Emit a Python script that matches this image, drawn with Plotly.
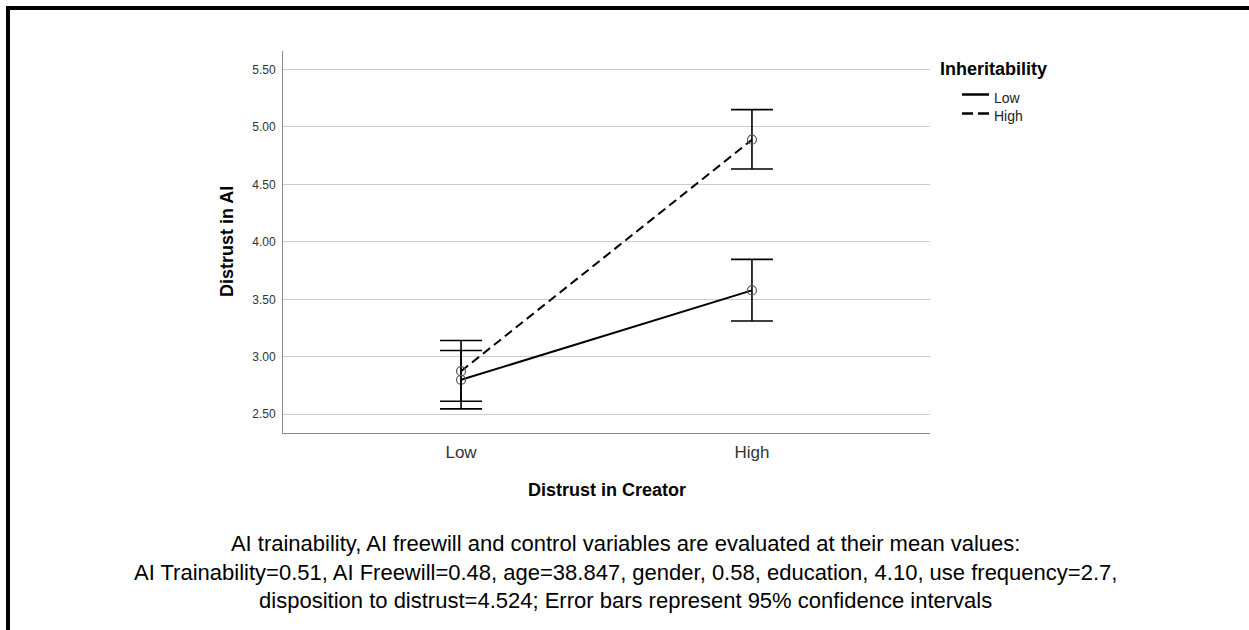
import plotly.graph_objects as go

# ---- data ----
categories = ["Low", "High"]           # Distrust in Creator
cat_pos = [0, 1]
series_names = ["Low", "High"]          # Inheritability
means_low = [2.80, 3.578]
ci_low_lower = [2.547, 3.311]
ci_low_upper = [3.055, 3.848]
means_high = [2.875, 4.889]
ci_high_lower = [2.613, 4.634]
ci_high_upper = [3.142, 5.151]
y_ticks = [2.5, 3.0, 3.5, 4.0, 4.5, 5.0, 5.5]
y_ticklabels = ["2.50", "3.00", "3.50", "4.00", "4.50", "5.00", "5.50"]

x_title = "Distrust in Creator"
y_title = "Distrust in AI"
legend_title = "Inheritability"
caption_lines = [
    "AI trainability, AI freewill and control variables are evaluated at their mean values:",
    "AI Trainability=0.51, AI Freewill=0.48, age=38.847, gender, 0.58, education, 4.10, use frequency=2.7,",
    "disposition to distrust=4.524; Error bars represent 95% confidence intervals",
]

FONT = "Arial, 'Liberation Sans', sans-serif"

W, H = 1249, 630
L, R, T, B = 283, 930, 51, 433


def px_x(p):
    return (p - L) / (R - L)


def px_y(p):
    return 1 - (p - T) / (B - T)


fig = go.Figure()

dashes = ["solid", "9px,5px"]
all_means = [means_low, means_high]
lowers = [ci_low_lower, ci_high_lower]
uppers = [ci_low_upper, ci_high_upper]

for name, m, d in zip(series_names, all_means, dashes):
    fig.add_trace(go.Scatter(
        x=cat_pos, y=m, mode="lines", name=name, showlegend=False,
        line=dict(color="black", width=2, dash=d),
    ))
for name, m, lo, up in zip(series_names, all_means, lowers, uppers):
    fig.add_trace(go.Scatter(
        x=cat_pos, y=m, mode="markers", name=name, showlegend=False,
        marker=dict(symbol="circle-open", size=9, color="#555555", line=dict(width=1.2)),
        error_y=dict(type="data", symmetric=False,
                     array=[u - v for u, v in zip(up, m)],
                     arrayminus=[v - l for v, l in zip(m, lo)],
                     color="black", thickness=1.6, width=21),
    ))

fig.update_layout(
    width=W, height=H,
    margin=dict(l=L, r=W - R, t=T, b=H - B, pad=0),
    paper_bgcolor="white", plot_bgcolor="white",
    font=dict(family=FONT, color="black"),
    showlegend=False,
    xaxis=dict(
        range=[-0.612, 1.612], tickvals=cat_pos, ticktext=categories,
        showgrid=False, zeroline=False,
        showline=True, linecolor="#888888", linewidth=1,
        ticks="", ticklabelstandoff=4,
        tickfont=dict(size=17, color="#333333"),
    ),
    yaxis=dict(
        range=[2.337, 5.661], tickvals=y_ticks, ticktext=y_ticklabels,
        showgrid=True, gridcolor="#cccccc", gridwidth=1,
        zeroline=False,
        showline=True, linecolor="#888888", linewidth=1,
        ticks="", ticklabelstandoff=4,
        tickfont=dict(size=12, color="#333333"),
    ),
)

# axis titles
fig.add_annotation(text="<b>%s</b>" % x_title, xref="paper", yref="paper",
                   x=0.5, y=px_y(490), xanchor="center", yanchor="middle",
                   showarrow=False, font=dict(size=18, color="black"))
fig.add_annotation(text="<b>%s</b>" % y_title, xref="paper", yref="paper",
                   x=px_x(227), y=0.5, xanchor="center", yanchor="middle",
                   textangle=-90, showarrow=False, font=dict(size=18, color="black"))

# legend (drawn manually)
fig.add_annotation(text="<b>%s</b>" % legend_title, xref="paper", yref="paper",
                   x=px_x(938), y=px_y(69), xanchor="left", yanchor="middle",
                   showarrow=False, font=dict(size=18, color="black"))
legend_rows = [94.5, 113.5]
for name, d, row in zip(series_names, ["solid", "11px,5px"], legend_rows):
    fig.add_shape(type="line", xref="paper", yref="paper",
                  x0=px_x(962), x1=px_x(989), y0=px_y(row), y1=px_y(row),
                  line=dict(color="black", width=2.5, dash=d))
    fig.add_annotation(text=name, xref="paper", yref="paper",
                       x=px_x(992), y=px_y(row + 3), xanchor="left", yanchor="middle",
                       showarrow=False, font=dict(size=14, color="#222222"))

# caption (one multi-line text)
fig.add_annotation(
    text="<br>".join(caption_lines), xref="paper", yref="paper",
    x=px_x(625), y=px_y(572), xanchor="center", yanchor="middle",
    showarrow=False, align="center",
    font=dict(size=22, color="black"),
)

# frame lines (top and left)
fig.add_shape(type="line", xref="paper", yref="paper",
              x0=px_x(6), x1=px_x(1249), y0=px_y(8), y1=px_y(8),
              line=dict(color="black", width=4))
fig.add_shape(type="line", xref="paper", yref="paper",
              x0=px_x(8), x1=px_x(8), y0=px_y(6), y1=px_y(630),
              line=dict(color="black", width=4))

fig.write_html("out.html", config={"displayModeBar": False},
               post_script="document.body.style.margin='0';document.body.style.overflow='hidden';")
